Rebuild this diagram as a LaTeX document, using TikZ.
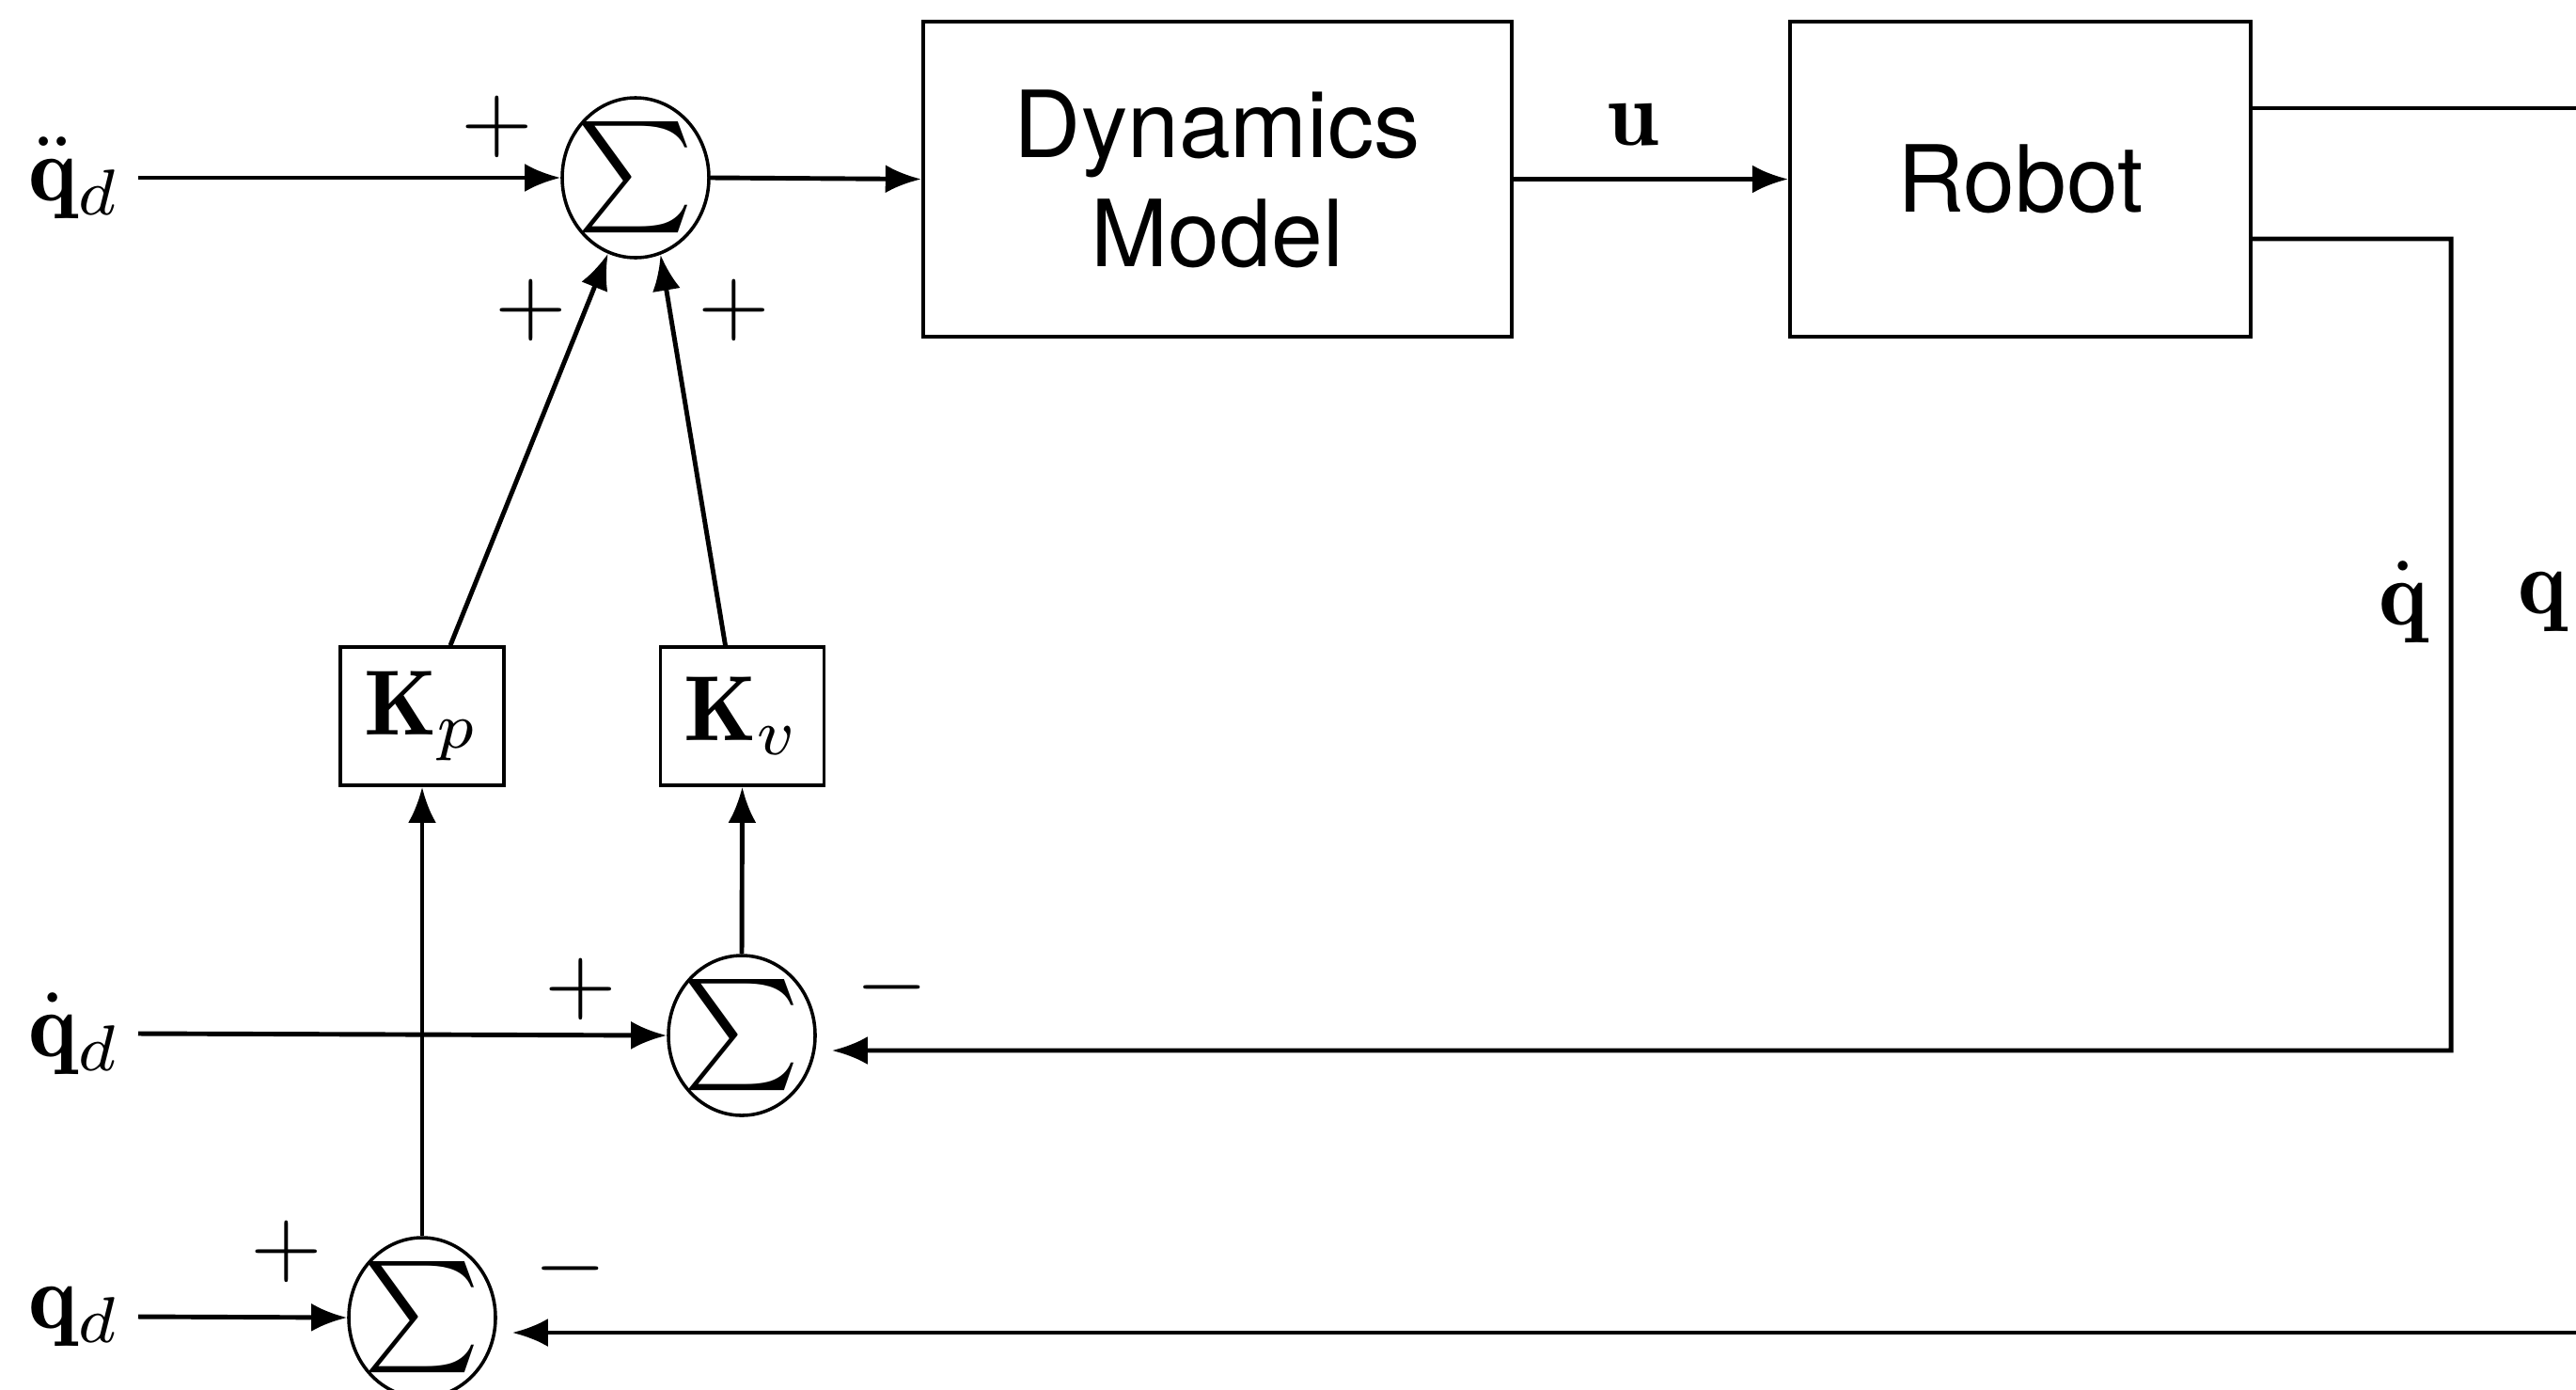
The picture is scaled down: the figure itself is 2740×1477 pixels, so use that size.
\documentclass[tikz,border=0pt]{standalone}
\usepackage{amsmath}
\usepackage{fontspec}
\newfontfamily\helv{TeX Gyre Heros}
\usetikzlibrary{shapes.geometric,arrows.meta,calc}
\newcommand\sumsym{\makebox[0pt]{$\sum$}}
\begin{document}
\begin{tikzpicture}[x=0.0035714cm,y=-0.0035714cm,
  every node/.style={font=\fontsize{10}{11.8}\selectfont},
  conn/.style={line width=0.5pt},
  arr/.style={conn,-{Latex[length=1.36mm,width=1.07mm]}},
  blk/.style={draw,line width=0.4pt,inner sep=0pt,align=center,font=\helv\fontsize{10}{11.8}\selectfont},
  sumn/.style={draw,ellipse,line width=0.36pt,minimum width=0.557cm,minimum height=0.607cm,inner sep=0pt,font=\fontsize{11.5}{12}\selectfont},
  gain/.style={draw,line width=0.36pt,minimum width=0.621cm,minimum height=0.525cm,inner sep=0pt},
  inlbl/.style={inner xsep=0.061cm,inner ysep=0pt,anchor=east},
  sgn/.style={inner sep=0pt},
]
\fill[white] (0,0) rectangle (2740,1477);
\useasboundingbox (0,0) rectangle (2740,1477);
\clip (0,0) rectangle (2740,1477);

% blocks
\node[sumn] (s1) at (676,189) {\sumsym};
\node[sumn] (s2) at (789,1101) {\sumsym};
\node[sumn] (s3) at (449,1401) {\sumsym};
\node[blk,minimum width=2.236cm,minimum height=1.196cm] (dyn) at (1295,190.5) {Dynamics\\Model};
\node[blk,minimum width=1.75cm,minimum height=1.196cm] (rob) at (2149,190.5) {Robot};
\node[gain] (kp) at (449,761.5) {$\mathbf K_p$};
\node[gain] (kv) at (789.5,761.5) {$\mathbf K_v$};

% input labels
\node[inlbl] (qdd) at (147,189) {$\ddot{\mathbf q}_d$};
\node[inlbl] (qdv) at (147,1099) {$\dot{\mathbf q}_d$};
\node[inlbl] (qdp) at (147,1400) {$\mathbf q_d$};

% other labels
\node (ul) at (1737,133) {$\mathbf u$};
\node (qdotl) at (2556,640) {$\dot{\mathbf q}$};
\node (ql) at (2704,640) {$\mathbf q$};

% signs
\node[sgn] (p1) at (529,135) {$+$};
\node[sgn] (p2) at (565,330) {$+$};
\node[sgn] (p3) at (781,330) {$+$};
\node[sgn] (p4) at (618,1052) {$+$};
\node[sgn] (m4) at (949,1050) {$-$};
\node[sgn] (p5) at (305,1331) {$+$};
\node[sgn] (m5) at (607,1349) {$-$};

% forward connectors
\draw[arr] (qdd.east) -- (s1.west);
\draw[arr] (s1.east) -- (dyn.west);
\draw[arr] (dyn.east) -- (rob.west);
\draw[arr] ($(kp.north)+(30,0)$) -- (s1.250);
\draw[arr] ($(kv.north)+(-18,0)$) -- (s1.288);
\draw[arr] (s3.north) -- (kp.south);
\draw[arr] (s2.north) -- (kv.south);
\draw[arr] (qdv.east) -- (s2.west);
\draw[arr] (qdp.east) -- (s3.west);

% feedback
\coordinate (c1) at (2607,254);
\coordinate (c2) at (2607,1117);
\draw[arr] ($(rob.east)+(0,63.5)$) -- (c1) -- (c2) -- ($(s2.east)+(16,16)$);
\coordinate (d1) at (2760,115);
\coordinate (d2) at (2760,1417);
\draw[arr] ($(rob.east)+(0,-75.5)$) -- (d1) -- (d2) -- ($(s3.east)+(16,16)$);
\end{tikzpicture}
\end{document}
